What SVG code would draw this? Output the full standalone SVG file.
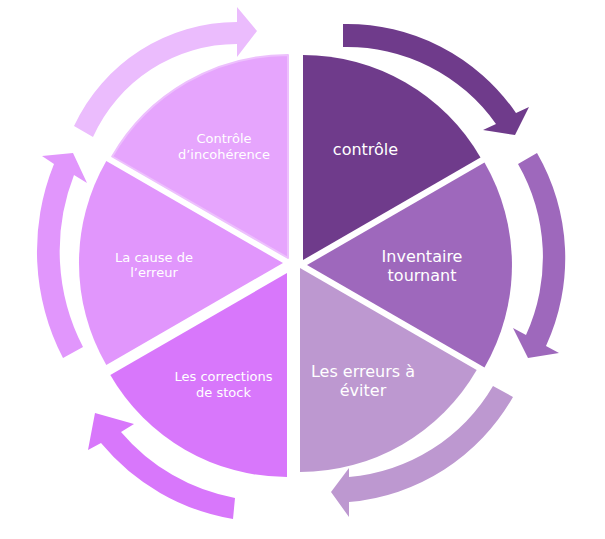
<svg xmlns="http://www.w3.org/2000/svg" width="605" height="539" viewBox="0 0 605 539">
  <style>
    .lbl { font-family: "DejaVu Sans", "Liberation Sans", sans-serif; fill: #ffffff; text-anchor: middle; }
    .big { font-size: 16px; }
    .small { font-size: 13px; }
    .c1 { fill: #6f3b8b; }
    .c2 { fill: #9e68bc; }
    .c3 { fill: #bd98d0; }
    .c4 { fill: #d877fb; }
    .c5 { fill: #e196fc; }
    .c6 { fill: #e6a5fd; }
    .c6a { fill: #ebbcfd; }
  </style>
  <rect width="605" height="539" fill="#ffffff"/>

  <!-- curved cycle arrows -->
  <g id="connectors">
    <path class="c1" d="M343,24 A205,205 0 0,1 516,113 L529,107 L515,135 L483,130 L496,124 A182,182 0 0,0 343,47 Z"/>
    <path class="c2" d="M537,153 A210,210 0 0,1 546,346 L559,353 L528,358 L513,328 L526,335 A187,187 0 0,0 518,164 Z"/>
    <path class="c3" d="M513,397 A209,209 0 0,1 349,502 L349,517 L331,492 L349,468 L349,477 A185,185 0 0,0 493,386 Z"/>
    <path class="c4" d="M233,519 A218,218 0 0,1 101,443 L88,450 L95,413 L134,424 L121,432 A196,196 0 0,0 235,498 Z"/>
    <path class="c5" d="M63,358 A232,232 0 0,1 54,164 L42,156 L73,153 L87,183 L74,175 A209,209 0 0,0 83,347 Z"/>
    <path class="c6a" d="M74,126 A180,180 0 0,1 237,22 L237,7 L257,31 L237,57 L237,44 A158,158 0 0,0 93,137 Z"/>
  </g>

  <g id="node-controle">
    <path class="c1" d="M303,260 L303,55 A205,205 0 0,1 480.5,157.5 Z"/>
    <text class="lbl big" x="365.5" y="155">contrôle</text>
  </g>

  <g id="node-inventaire">
    <path class="c2" d="M307,265 L484.5,162.5 A205,205 0 0,1 484.5,367.5 Z"/>
    <text class="lbl big" x="422" y="262">Inventaire</text>
    <text class="lbl big" x="422" y="281">tournant</text>
  </g>

  <g id="node-erreurs">
    <path class="c3" d="M300,268 L476.7,370 A204,204 0 0,1 300,472 Z"/>
    <text class="lbl big" x="363" y="377">Les erreurs à</text>
    <text class="lbl big" x="363" y="396">éviter</text>
  </g>

  <g id="node-corrections">
    <path class="c4" d="M287,273 L287,477 A204,204 0 0,1 110.3,375 Z"/>
    <text class="lbl small" x="223.5" y="381">Les corrections</text>
    <text class="lbl small" x="223.5" y="397">de stock</text>
  </g>

  <g id="node-cause">
    <path class="c5" d="M283,263 L106.3,365 A204,204 0 0,1 106.3,161 Z"/>
    <text class="lbl small" x="154" y="262">La cause de</text>
    <text class="lbl small" x="154" y="277">l’erreur</text>
  </g>

  <g id="node-incoherence">
    <path class="c6" stroke="#edc0fd" stroke-width="2" stroke-linejoin="round" d="M288,258 L112.2,156.5 A203,203 0 0,1 288,55 Z"/>
    <text class="lbl small" x="224" y="143">Contrôle</text>
    <text class="lbl small" x="224" y="159">d’incohérence</text>
  </g>
</svg>
